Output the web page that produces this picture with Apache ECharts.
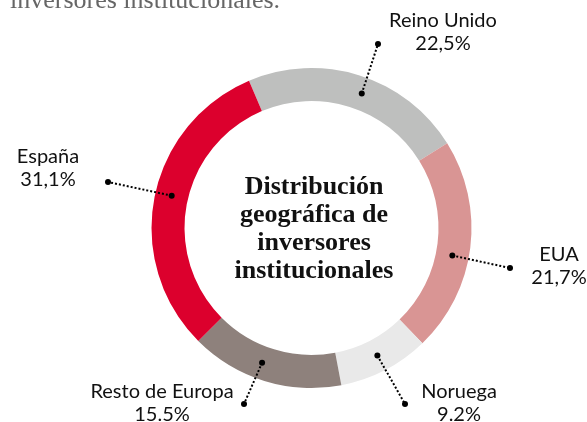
<!DOCTYPE html>
<html>
<head>
<meta charset="utf-8">
<script src="https://cdn.jsdelivr.net/npm/echarts@6/dist/echarts.min.js"></script>
<style>
  html, body { margin: 0; padding: 0; background: #fff; }
  #chart { width: 587px; height: 422px; }
</style>
</head>
<body>
<div id="chart"></div>
<script>
// data, clockwise from the top-left boundary
const regions = ['Reino Unido', 'EUA', 'Noruega', 'Resto de Europa', 'España'];
const shares = [22.5, 21.7, 9.2, 15.5, 31.1];
const shareLabels = ['22,5%', '21,7%', '9.2%', '15.5%', '31,1%'];
const colors = ['#bebfbe', '#d99594', '#e9e9e9', '#8e817c', '#dc002d'];

// layout only: label block centre, outer end of each leader, small angle nudge
const labelBox = [[443, 32], [559, 266], [459, 403], [162, 403], [48, 168]];
const leaderEnd = [[378, 44], [510, 268], [405, 404], [244, 404], [108, 182]];
const nudge = [-3, -4, 0, -3, -2];

const cx = 311.5, cy = 228, rIn = 127, rOut = 160, startAngle = 113;
const total = shares.reduce((a, b) => a + b, 0);

// point on the middle of the ring for each slice
let acc = 0;
const ringPoints = shares.map((v, i) => {
  const mid = startAngle - (acc + v / 2) / total * 360 + nudge[i];
  acc += v;
  const a = mid * Math.PI / 180, r = (rIn + rOut) / 2;
  return [cx + r * Math.cos(a), cy - r * Math.sin(a)];
});

const leaders = ringPoints.map((p, i) => ({
  type: 'polyline',
  z: 100,
  shape: { points: [p, leaderEnd[i]] },
  style: { stroke: '#000', lineWidth: 2, lineDash: [2, 2], fill: null }
}));

const dots = ringPoints.concat(leaderEnd).map(p => ({
  type: 'circle',
  z: 101,
  shape: { cx: p[0], cy: p[1], r: 3 },
  style: { fill: '#000' }
}));

const chart = echarts.init(document.getElementById('chart'));
const option = {
  animation: false,
  graphic: [
    {
      type: 'text',
      x: 10,
      y: 1.5,
      style: {
        text: 'inversores institucionales.',
        font: '26px "Liberation Serif"',
        fill: '#666',
        verticalAlign: 'middle'
      }
    },
    {
      type: 'text',
      x: 314,
      y: 229,
      style: {
        text: 'Distribución\ngeográfica de\ninversores\ninstitucionales',
        font: 'bold 26px "Liberation Serif"',
        lineHeight: 28,
        fill: '#111',
        align: 'center',
        verticalAlign: 'middle'
      }
    }
  ].concat(leaders, dots),
  series: [
    {
      type: 'pie',
      silent: true,
      center: [cx, cy],
      radius: [rIn, rOut],
      startAngle: startAngle,
      clockwise: true,
      avoidLabelOverlap: false,
      data: regions.map((name, i) => ({
        name: name,
        value: shares[i],
        itemStyle: { color: colors[i] }
      })),
      label: {
        show: true,
        position: 'outside',
        formatter: p => p.name + '\n' + shareLabels[p.dataIndex],
        fontFamily: 'Lato',
        fontSize: 20,
        lineHeight: 23,
        color: '#111'
      },
      labelLine: { show: false },
      labelLayout: params => {
        const i = params.dataIndex;
        return {
          x: labelBox[i][0],
          y: labelBox[i][1],
          align: 'center',
          verticalAlign: 'middle'
        };
      }
    }
  ]
};
chart.setOption(option);
</script>
</body>
</html>
